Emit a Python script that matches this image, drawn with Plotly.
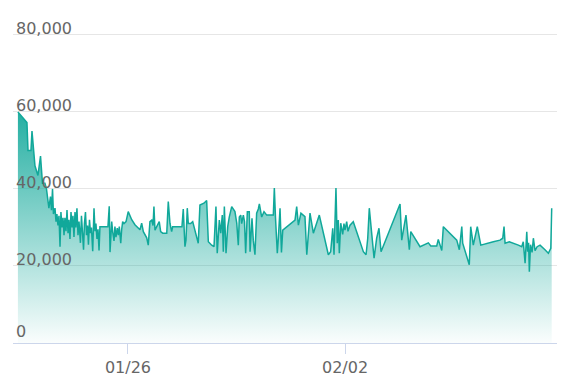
import pandas as pd
import plotly.graph_objects as go

# hours elapsed since 2021-01-22 00:00
hours = [
    10.8, 17.8, 18.6, 20.9, 21.7, 22.8, 24.0, 26.3, 28.3, 29.8, 31.7, 32.9, 34.1, 34.8, 36.0, 36.8,
    37.6, 38.3, 39.5, 40.3, 41.0, 41.8, 42.6, 43.4, 44.1, 44.9, 45.7, 46.5, 47.2, 48.0, 48.8, 49.6,
    50.3, 51.1, 51.9, 52.7, 53.4, 54.2, 55.0, 55.7, 56.5, 57.3, 58.1, 59.2, 60.0, 60.8, 61.6, 62.3,
    63.1, 63.9, 64.7, 65.4, 66.2, 67.0, 67.7, 68.7, 69.7, 70.5, 71.2, 72.0, 72.8, 73.6, 74.3, 80.5,
    81.5, 82.1, 83.4, 84.2, 85.2, 85.9, 86.7, 87.7, 88.5, 89.3, 90.4, 91.1, 91.9, 92.9, 94.5, 96.2,
    97.6, 98.9, 101.4, 104.0, 105.3, 106.6, 107.9, 110.5, 111.7, 113.0, 114.4, 115.4, 116.1, 116.9,
    118.5, 120.2, 121.3, 122.9, 126.0, 127.2, 128.5, 129.8, 130.6, 137.8, 138.8, 140.1, 140.9, 141.9,
    142.7, 144.5, 146.1, 147.9, 150.4, 151.7, 154.8, 156.9, 158.2, 160.8, 162.6, 164.1, 165.1, 166.7,
    167.8, 169.0, 169.8, 170.6, 171.9, 173.2, 174.4, 176.3, 178.8, 180.2, 181.4, 182.2, 183.3, 184.0,
    185.3, 186.2, 187.1, 188.4, 189.9, 190.5, 192.0, 193.0, 194.3, 195.6, 196.9, 197.7, 199.5, 201.3,
    203.4, 208.5, 209.3, 210.2, 211.6, 212.4, 213.7, 214.8, 215.8, 225.3, 226.6, 227.9, 229.9, 233.0,
    234.4, 236.9, 239.5, 244.1, 251.1, 252.9, 254.5, 255.5, 257.0, 258.0, 258.8, 259.6, 260.7, 262.2,
    263.2, 264.0, 265.3, 266.3, 267.9, 270.4, 276.9, 278.2, 280.3, 281.6, 282.8, 286.5, 288.5, 290.3,
    291.9, 306.6, 307.9, 311.2, 313.8, 314.9, 322.1, 328.5, 330.4, 335.0, 336.2, 338.9, 340.1, 350.5,
    352.5, 354.4, 355.1, 360.2, 361.3, 363.3, 366.4, 369.1, 378.8, 384.0, 386.1, 387.1, 387.9, 391.2,
    398.2, 400.8, 402.0, 403.4, 404.7, 405.4, 406.1, 406.7, 407.6, 408.8, 409.8, 411.1, 412.7, 415.0,
    418.8, 421.4, 423.3, 424.0,
]

# values in thousands
values_k = [
    60.0, 57.2, 50.0, 50.0, 55.0, 50.0, 46.0, 43.5, 48.5, 41.5, 41.5, 40.0, 37.0, 35.0, 38.0, 34.5,
    40.0, 33.5, 35.0, 31.5, 33.5, 30.5, 33.0, 25.0, 34.0, 30.0, 32.5, 28.0, 32.5, 29.0, 34.5, 28.5,
    32.0, 27.0, 34.0, 30.0, 33.0, 27.5, 34.0, 30.0, 35.0, 28.0, 31.5, 26.0, 33.0, 28.5, 24.2, 31.0,
    34.0, 28.0, 30.5, 25.5, 32.0, 28.5, 30.0, 23.8, 35.0, 29.0, 31.0, 27.0, 29.5, 24.0, 30.2, 30.2,
    35.5, 23.6, 31.5, 28.8, 26.5, 30.2, 27.5, 29.8, 28.0, 30.2, 25.9, 29.4, 31.5, 31.0, 31.5, 34.1,
    32.9, 32.0, 30.7, 29.8, 29.4, 31.1, 28.9, 27.3, 25.4, 31.5, 31.9, 30.5, 35.4, 29.3,
    30.2, 31.5, 28.9, 28.5, 28.5, 36.7, 31.1, 28.9, 30.2, 30.2, 34.8, 25.0, 26.7, 35.0,
    31.0, 31.0, 31.5, 29.3, 25.9, 35.8, 36.3, 37.0, 26.3, 25.4, 25.0, 35.4, 23.3, 31.9,
    28.5, 33.2, 23.7, 35.4, 23.3, 30.2, 32.7, 35.4, 34.1, 31.1, 25.4, 32.7, 33.2, 31.0,
    33.2, 31.5, 23.3, 34.1, 34.1, 23.7, 32.4, 26.7, 22.9, 33.7, 34.8, 36.1, 32.7, 34.1,
    33.2, 33.2, 40.2, 32.5, 23.3, 27.2, 35.0, 23.5, 29.3, 31.9, 35.4, 30.6, 33.7, 32.8,
    22.9, 33.7, 28.5, 33.2, 22.9, 23.7, 29.8, 22.9, 40.2, 25.9, 31.9, 23.3, 31.1, 28.2,
    31.0, 29.3, 31.5, 29.0, 30.6, 31.5, 25.4, 23.7, 22.9, 27.2, 35.0, 22.0, 27.2, 29.8,
    23.7, 36.1, 26.7, 33.2, 24.2, 28.9, 25.0, 26.0, 25.2, 25.2, 26.9, 24.0, 30.2, 26.7,
    24.2, 30.2, 25.9, 20.3, 30.2, 25.4, 30.2, 25.4, 26.3, 26.7, 27.2, 30.2, 25.9, 26.3,
    25.4, 25.0, 26.3, 20.7, 28.9, 23.7, 26.0, 18.5, 25.5, 23.5, 27.2, 24.0, 25.0, 25.4,
    24.2, 23.3, 24.6, 35.0,
]

y_ticks = [0, 20000, 40000, 60000, 80000]
y_tick_text = ["0", "20,000", "40,000", "60,000", "80,000"]
x_ticks = ["2021-01-26", "2021-02-02"]
x_tick_text = ["01/26", "02/02"]

base = pd.Timestamp("2021-01-22 00:00")
times = [base + pd.Timedelta(hours=h) for h in hours]
values = [v * 1000 for v in values_k]

teal = "rgb(17,168,154)"
y_range = [0, 88000]

fig = go.Figure()
fig.add_trace(go.Scatter(
    x=times, y=values, mode="lines",
    line=dict(color=teal, width=1.5),
    fill="tozeroy",
    fillgradient=dict(
        type="vertical",
        start=0, stop=62000,
        colorscale=[[0, "rgba(17,168,154,0.02)"], [1, "rgba(17,168,154,0.95)"]],
    ),
    hoverinfo="skip",
))
# invisible companion trace so the overlay axis (carrying the "0" label) is drawn
fig.add_trace(go.Scatter(
    x=[times[0]], y=[values[0]], mode="markers", yaxis="y2",
    marker=dict(opacity=0), hoverinfo="skip", showlegend=False,
))

font_family = "DejaVu Sans, Verdana, sans-serif"

fig.update_layout(
    width=572, height=384,
    margin=dict(l=13, r=15, t=4, b=41, autoexpand=False),
    paper_bgcolor="white", plot_bgcolor="white",
    showlegend=False,
    font=dict(family=font_family, size=16, color="#666666"),
    yaxis2=dict(
        overlaying="y", side="left", automargin=False,
        range=y_range,
        tickvals=y_ticks[:1], ticktext=y_tick_text[:1],
        showgrid=False, zeroline=False, showline=False,
        ticks="", ticklabelposition="inside top",
        tickfont=dict(size=16, color="#666666"),
    ),
)
fig.update_xaxes(
    type="date", automargin=False,
    range=[base + pd.Timedelta(hours=7.0), base + pd.Timedelta(hours=428.1)],
    tickvals=x_ticks, ticktext=x_tick_text,
    showgrid=False, zeroline=False,
    showline=True, linecolor="#ccd6eb", linewidth=1,
    ticks="outside", ticklen=10, tickcolor="#ccd6eb", tickwidth=1,
    tickfont=dict(size=16, color="#666666"),
)
fig.update_layout(yaxis=dict(
    automargin=False,
    range=y_range,
    tickvals=y_ticks, ticktext=y_tick_text,
    showgrid=True, gridcolor="#e6e6e6", gridwidth=1,
    zeroline=False, showline=False,
    ticks="", ticklabelposition="inside top",
    ticklabelshift=5,
    tickfont=dict(size=16, color="#666666"),
))

fig.write_html("out.html")
